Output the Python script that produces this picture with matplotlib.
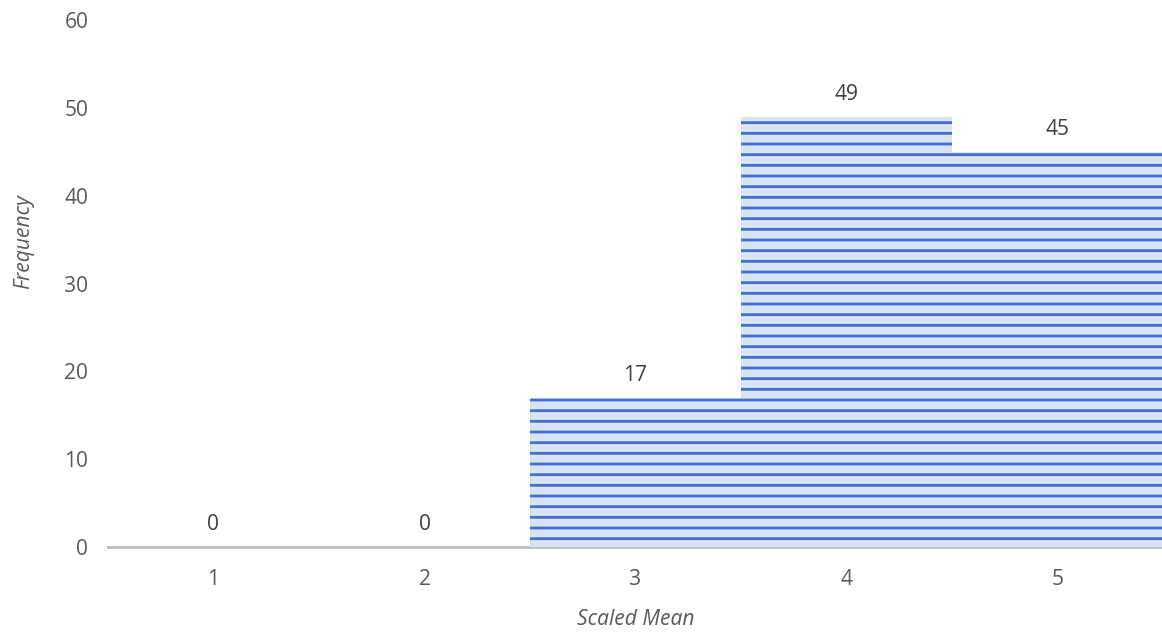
import matplotlib
matplotlib.use("Agg")
import matplotlib.pyplot as plt

categories = [1, 2, 3, 4, 5]
frequencies = [0, 0, 17, 49, 45]
y_ticks = [0, 10, 20, 30, 40, 50, 60]

DPI = 128
FS = 11.8
W, H = 1162, 637
plt.rcParams['font.family'] = ['Open Sans', 'DejaVu Sans']
plt.rcParams['hatch.linewidth'] = 1.6

fig = plt.figure(figsize=(W / DPI, H / DPI), dpi=DPI)
ax = fig.add_axes([108 / W, 90 / H, 1055 / W, 527 / H])

text_color = '#595959'
ax.bar(categories, frequencies, width=1.0, color='#DAE3F3',
       edgecolor='#4472C4', linewidth=0, hatch='--', zorder=2)

for x, v in zip(categories, frequencies):
    ax.annotate(str(v), (x, v), xytext=(0, 9.6), textcoords='offset points',
                ha='center', va='baseline', fontsize=FS, color='#404040')

ax.set_xlim(0.5, 5.5)
ax.set_ylim(0, 60)
ax.set_xticks(categories)
ax.set_yticks(y_ticks)
ax.tick_params(axis='both', length=0, labelsize=FS, labelcolor=text_color)
ax.tick_params(axis='x', pad=12.4)
ax.tick_params(axis='y', pad=11)

for side in ('top', 'right', 'left'):
    ax.spines[side].set_visible(False)
ax.spines['bottom'].set_color('#BFBFBF')
ax.spines['bottom'].set_linewidth(1.6)
ax.spines['bottom'].set_zorder(1)

ax.set_xlabel('Scaled Mean', fontsize=FS, style='italic', color=text_color)
ax.set_ylabel('Frequency', fontsize=FS, style='italic', color=text_color)
ax.xaxis.set_label_coords(0.5, -0.1176)
ax.yaxis.set_label_coords(-0.07, 0.58)

fig.savefig('out.png', dpi=DPI)
